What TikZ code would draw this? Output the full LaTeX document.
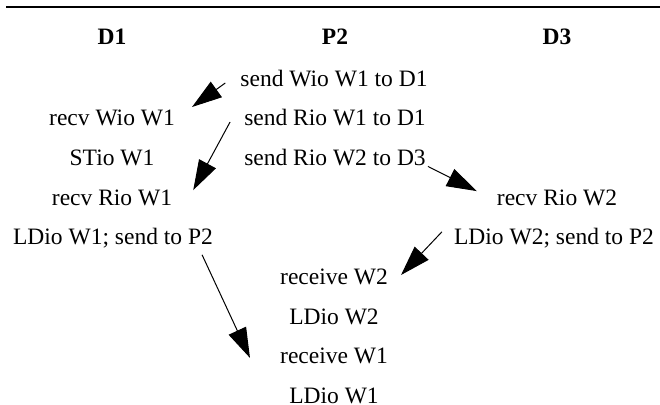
\documentclass[tikz,border=0pt]{standalone}
\usepackage{fontspec}
\setmainfont{Liberation Serif}
\usetikzlibrary{arrows.meta,calc}
\begin{document}
\begin{tikzpicture}[x=1pt,y=-1pt,
  lbl/.style={anchor=base,inner sep=0pt,font=\fontsize{23.5}{28}\selectfont},
  hdr/.style={anchor=base,inner sep=0pt,font=\fontsize{23.5}{28}\selectfont\bfseries},
  arr/.style={line width=1pt,-{Triangle[length=30pt,width=19pt]}},
  rulestyle/.style={line width=2pt}
]
\useasboundingbox (0,0) rectangle (660,404);
\coordinate (ruleL) at (6,7);
\coordinate (ruleR) at (660,7);
\draw[rulestyle] (ruleL) -- (ruleR);
% headers
\node[hdr] (d1) at (112,45) {D1};
\node[hdr] (p2) at (335,45) {P2};
\node[hdr] (d3) at (557,45) {D3};
% P2 column
\node[lbl] (swio) at (334,86) {send Wio W1 to D1};
\node[lbl] (sriow1) at (335,125.7) {send Rio W1 to D1};
\node[lbl] (sriow2) at (335,165.4) {send Rio W2 to D3};
% D1 column
\node[lbl] (rwio) at (112,125.7) {recv Wio W1};
\node[lbl] (stio) at (112,165.4) {STio W1};
\node[lbl] (rriow1) at (112,205.1) {recv Rio W1};
\node[lbl] (ldw1s) at (113,244.8) {LDio W1; send to P2};
% D3 column
\node[lbl] (rriow2) at (557,205.1) {recv Rio W2};
\node[lbl] (ldw2s) at (554,244.8) {LDio W2; send to P2};
% P2 bottom
\node[lbl] (recw2) at (334,284.5) {receive W2};
\node[lbl] (ldw2) at (334,324.2) {LDio W2};
\node[lbl] (recw1) at (334,363.9) {receive W1};
\node[lbl] (ldw1) at (334,403.6) {LDio W1};
% arrows
\draw[arr] ($(swio.base west)+(-15,-3)$) -- ($(rwio.base east)+(17,-18.7)$);
\draw[arr] ($(sriow1.base west)+(-14,-3.7)$) -- ($(rriow1.base east)+(21,-15)$);
\draw[arr] ($(sriow2.base east)+(2,1)$) -- ($(rriow2.base west)+(-20,-14)$);
\draw[arr] ($(ldw2s.base west)+(-12,-13)$) -- ($(recw2.base east)+(13,-9.5)$);
\draw[arr] ($(ldw1s.base east)+(-11,10)$) -- ($(recw1.base west)+(-30,-6)$);
\end{tikzpicture}
\end{document}
